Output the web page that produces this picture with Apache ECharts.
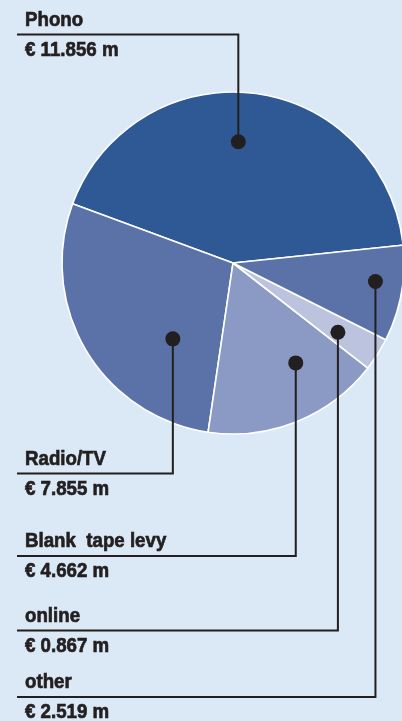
<!DOCTYPE html>
<html>
<head>
<meta charset="utf-8">
<script src="https://cdn.jsdelivr.net/npm/echarts@6/dist/echarts.min.js"></script>
<style>
html,body{margin:0;padding:0;background:#dbe8f5;}
#c{width:402px;height:721px;}
</style>
</head>
<body>
<div id="c"></div>
<script>
// Data
var categories = ['Phono', 'Radio/TV', 'Blank  tape levy', 'online', 'other'];
var values = [11.856, 7.855, 4.662, 0.867, 2.519];
var valueLabels = ['€ 11.856 m', '€ 7.855 m', '€ 4.662 m', '€ 0.867 m', '€ 2.519 m'];

// Styles / layout (not data)
var colors = ['#2f5994', '#5b72a8', '#8b9ac4', '#bcc3de', '#5b72a8'];
var dotAngleFrac = [0.53, 0.705, 0.67, 0.40, 0.59];
var dotRadiusFrac = [0.71, 0.566, 0.69, 0.735, 0.84];
var underlineY = [34.5, 473.5, 556, 630.5, 697];
var START_ANGLE = 6;
var CENTER = [233, 263];
var RADIUS = 171;
var FONT = '"Liberation Sans", Arial, sans-serif';
var INK = '#231f20';
var TEXT_SCALE_X = 0.89;

var chart = echarts.init(document.getElementById('c'), null, {renderer: 'canvas'});

var pieData = categories.map(function (c, i) {
  return {name: c, value: values[i], itemStyle: {color: colors[i]}};
});

chart.setOption({
  backgroundColor: '#dbe8f5',
  animation: false,
  series: [{
    type: 'pie',
    center: CENTER,
    radius: RADIUS,
    startAngle: START_ANGLE,
    clockwise: false,
    avoidLabelOverlap: false,
    label: {show: false},
    labelLine: {show: false},
    itemStyle: {borderColor: '#ffffff', borderWidth: 1.6},
    emphasis: {disabled: true},
    data: pieData
  }]
});

// Annotation: derived from the pie's own layout
var data = chart.getModel().getSeriesByIndex(0).getData();
var graphics = [];
var total = values.reduce(function (a, b) { return a + b; }, 0);
var acc = 0;
function textEl(str, x, y) {
  return {
    type: 'text', silent: true, z: 12,
    x: x, y: y, scaleX: TEXT_SCALE_X, originX: 0, originY: 0,
    style: {
      text: str, fill: INK, stroke: INK, lineWidth: 0.7,
      font: 'bold 21px ' + FONT,
      textVerticalAlign: 'bottom', verticalAlign: 'bottom'
    }
  };
}
for (var i = 0; i < values.length; i++) {
  var lay = data.getItemLayout(i) || {};
  var cx = lay.cx != null ? lay.cx : CENTER[0];
  var cy = lay.cy != null ? lay.cy : CENTER[1];
  var r = lay.r != null ? lay.r : RADIUS;
  var a0, a1;
  if (lay.startAngle != null && lay.endAngle != null) {
    a0 = lay.startAngle; a1 = lay.endAngle;
    if (a1 > a0) { var span = a1 - a0; a1 = a0 - span; }
  } else {
    a0 = -(START_ANGLE + acc / total * 360) * Math.PI / 180;
    a1 = -(START_ANGLE + (acc + values[i]) / total * 360) * Math.PI / 180;
  }
  acc += values[i];
  var ang = a0 + (a1 - a0) * dotAngleFrac[i];
  var rr = r * dotRadiusFrac[i];
  var dx = cx + rr * Math.cos(ang);
  var dy = cy + rr * Math.sin(ang);
  var ly = underlineY[i];
  graphics.push({
    type: 'polyline', silent: true, z: 10,
    shape: {points: [[dx, dy], [dx, ly], [17, ly]]},
    style: {stroke: INK, lineWidth: 2, fill: null, lineJoin: 'miter'}
  });
  graphics.push({
    type: 'circle', silent: true, z: 11,
    shape: {cx: dx, cy: dy, r: 7.5},
    style: {fill: INK}
  });
  graphics.push(textEl(categories[i], 25, ly - 4));
  graphics.push(textEl(valueLabels[i], 25, ly + 26));
}
chart.setOption({graphic: graphics});
</script>
</body>
</html>
